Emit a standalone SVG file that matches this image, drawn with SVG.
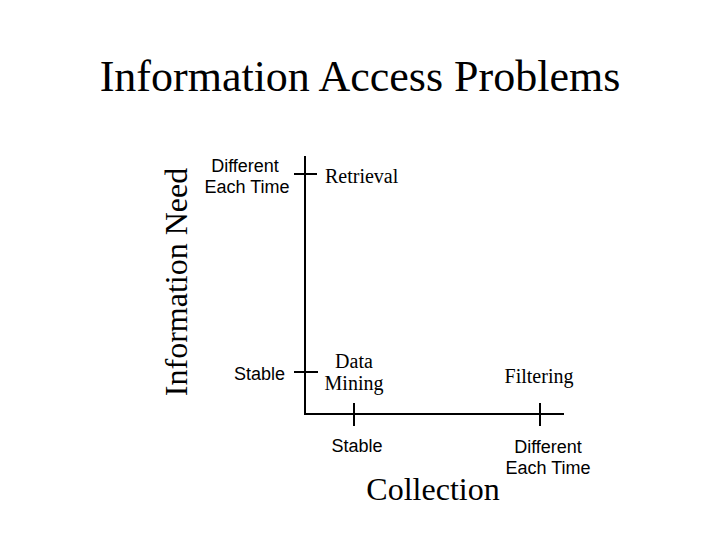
<svg xmlns="http://www.w3.org/2000/svg" width="720" height="540" viewBox="0 0 720 540">
<style>
.serif{font-family:"Liberation Serif","Times New Roman",serif;fill:#000}
.sans{font-family:"Liberation Sans",Arial,sans-serif;fill:#000;font-size:18px}
.ax{stroke:#000;stroke-width:2;fill:none}
</style>
<rect width="720" height="540" fill="#fff"/>
<text class="serif" x="360" y="91" font-size="44" text-anchor="middle">Information Access Problems</text>
<text class="serif" font-size="32" text-anchor="middle" transform="translate(187,282) rotate(-90)">Information Need</text>
<g id="axes" class="ax">
<path d="M305,156 V414 H564"/>
<path d="M294,174 H317"/>
<path d="M294,372 H318"/>
<path d="M354,403 V426"/>
<path d="M540,403 V426"/>
</g>
<g id="y-labels">
<text class="sans" text-anchor="middle"><tspan x="245" y="172">Different</tspan><tspan x="247" y="193">Each Time</tspan></text>
<text class="sans" x="285" y="380" text-anchor="end">Stable</text>
</g>
<g id="x-labels">
<text class="sans" x="357" y="452" text-anchor="middle">Stable</text>
<text class="sans" text-anchor="middle"><tspan x="548" y="453">Different</tspan><tspan x="548" y="474">Each Time</tspan></text>
<text class="serif" x="433" y="500" font-size="32" text-anchor="middle">Collection</text>
</g>
<g id="retrieval"><text class="serif" x="325" y="183" font-size="20">Retrieval</text></g>
<g id="datamining"><text class="serif" font-size="20" text-anchor="middle"><tspan x="354" y="368">Data</tspan><tspan x="354" y="390">Mining</tspan></text></g>
<g id="filtering"><text class="serif" x="539" y="383" font-size="20" text-anchor="middle">Filtering</text></g>
</svg>
